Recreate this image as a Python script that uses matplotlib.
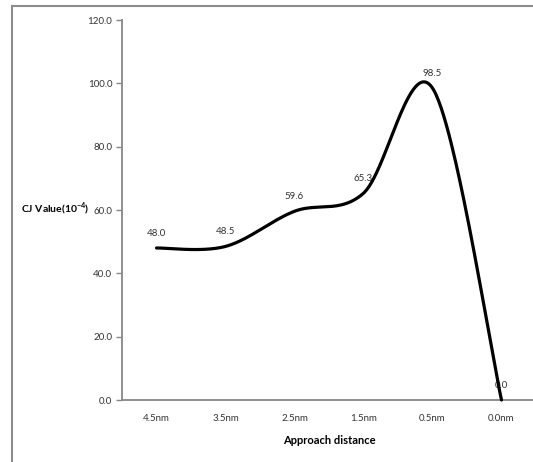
import numpy as np
import matplotlib
matplotlib.use("Agg")
from matplotlib import pyplot as plt
from matplotlib.lines import Line2D

# data
categories = ["4.5nm", "3.5nm", "2.5nm", "1.5nm", "0.5nm", "0.0nm"]
cj_values = [48.0, 48.5, 59.6, 65.3, 98.5, 0.0]
y_ticks = [0, 20, 40, 60, 80, 100, 120]

plt.rcParams['font.family'] = ['Lato', 'DejaVu Sans']
plt.rcParams['mathtext.fontset'] = 'custom'
plt.rcParams['mathtext.rm'] = 'Lato'
plt.rcParams['mathtext.bf'] = 'Lato:bold'


def excel_smooth(xs, ys, n=60):
    # cubic bezier through the points, like Excel's "smoothed line"
    px = np.array(xs, float)
    py = np.array(ys, float)
    ex = np.concatenate([[px[0]], px, [px[-1]]])
    ey = np.concatenate([[py[0]], py, [py[-1]]])
    out_x, out_y = [], []
    t = np.linspace(0, 1, n)
    for i in range(len(px) - 1):
        x0, y0 = ex[i + 1], ey[i + 1]
        x3, y3 = ex[i + 2], ey[i + 2]
        x1 = x0 + (ex[i + 2] - ex[i]) / 6
        y1 = y0 + (ey[i + 2] - ey[i]) / 6
        x2 = x3 - (ex[i + 3] - ex[i + 1]) / 6
        y2 = y3 - (ey[i + 3] - ey[i + 1]) / 6
        b0 = (1 - t) ** 3
        b1 = 3 * (1 - t) ** 2 * t
        b2 = 3 * (1 - t) * t ** 2
        b3 = t ** 3
        out_x.extend(b0 * x0 + b1 * x1 + b2 * x2 + b3 * x3)
        out_y.extend(b0 * y0 + b1 * y1 + b2 * y2 + b3 * y3)
    return np.array(out_x), np.array(out_y)


W, H = 533, 462
fig = plt.figure(figsize=(W / 100, H / 100), dpi=100)
ax = fig.add_axes([122 / W, (H - 400) / H, (536 - 122) / W, 380 / H])

x = np.arange(len(categories))
sx, sy = excel_smooth(x, cj_values)
ax.plot(sx, sy, color='black', lw=2.3, solid_capstyle='round', zorder=3, clip_on=False)

# data labels
for xi, v in zip(x, cj_values):
    ax.annotate(f"{v:.1f}", (xi, v), xytext=(0, 15), textcoords='offset pixels',
                ha='center', va='center', fontsize=7, color='#333333', zorder=1)

ax.set_xlim(-0.5, len(categories) - 0.5)
ax.set_ylim(0, 120)
ax.set_xticks(x)
ax.set_xticklabels(categories)
ax.set_yticks(y_ticks)
ax.set_yticklabels([f"{v:.1f}" for v in y_ticks])

spine_c = '#878787'
for s in ['top', 'right']:
    ax.spines[s].set_visible(False)
for s in ['left', 'bottom']:
    ax.spines[s].set_color(spine_c)
    ax.spines[s].set_linewidth(1.3)
ax.tick_params(axis='y', length=4, width=1, color=spine_c, labelsize=7, pad=3, labelcolor='#333333')
ax.tick_params(axis='x', length=0, labelsize=7, pad=10, labelcolor='#333333')

ax.set_xlabel("Approach distance", fontsize=8, fontweight='bold', labelpad=9)
fig.text(55 / W, 1 - 209 / H, "CJ Value(10$^{\\mathbf{-4}}$)", ha='center', va='center',
         fontsize=7.5, fontweight='bold')

# chart-area border (cropped at right and bottom)
fig.add_artist(Line2D([12 / W, 12 / W], [0, 1 - 6 / H], color='#8c8c8c', lw=1.5, transform=fig.transFigure))
fig.add_artist(Line2D([12 / W, 1], [1 - 6 / H, 1 - 6 / H], color='#8c8c8c', lw=1.5, transform=fig.transFigure))

fig.savefig("out.png", dpi=100)
